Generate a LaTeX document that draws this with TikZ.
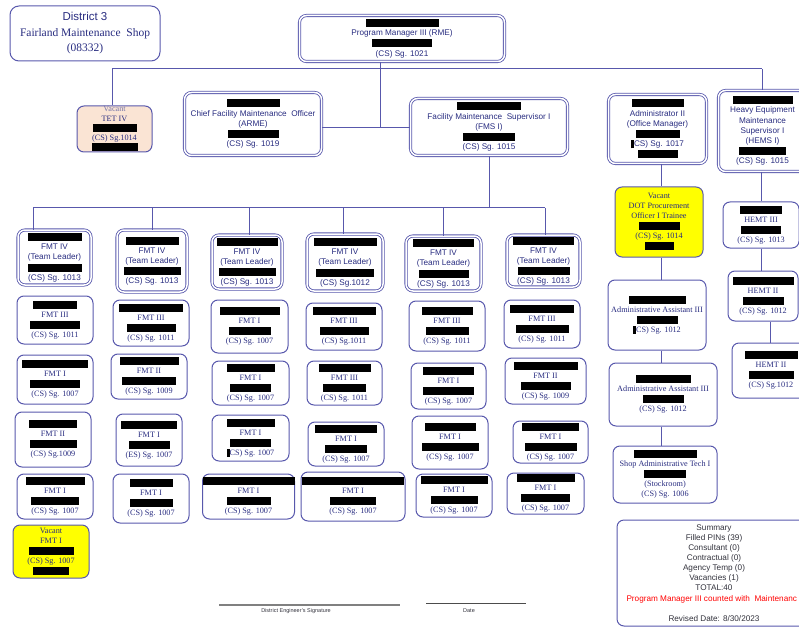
\documentclass[tikz,border=0pt]{standalone}
\usepackage{fontspec}
\setmainfont{Liberation Serif}
\setsansfont{Liberation Sans}
\definecolor{boxblue}{RGB}{88,88,172}
\definecolor{navy}{RGB}{40,44,128}
\definecolor{fadeblue}{RGB}{120,120,170}
\definecolor{peach}{RGB}{250,228,212}
\definecolor{vacyellow}{RGB}{255,255,0}
\definecolor{siggray}{RGB}{128,128,128}
\definecolor{sumtext}{RGB}{50,50,60}
\newcommand{\redact}[1]{{\color{black}\rule[-1.5pt]{#1pt}{8pt}}}
\tikzset{
  boxsize/.style 2 args={minimum width=#1pt, minimum height=#2pt},
  jobbox/.style={draw=boxblue, line width=1pt, rounded corners=7pt, inner sep=0pt,
    align=center, text=navy, font=\fontsize{8.2}{10}\selectfont},
  leadbox/.style={jobbox, double=white, double distance=1.5pt, line width=0.8pt,
    font=\sffamily\fontsize{8.2}{10.2}\selectfont},
  vacbox/.style={jobbox, fill=vacyellow},
  link/.style={draw=boxblue, line width=1pt},
  sigtext/.style={text=sumtext, font=\sffamily\fontsize{5.5}{6.5}\selectfont}
}
\begin{document}
\begin{tikzpicture}[x=1pt, y=-1pt]
\useasboundingbox (0,0) rectangle (799,628);
    % top row
    \node[jobbox, boxsize={150}{55}, rounded corners=9pt, font=\fontsize{11.5}{15.5}\selectfont] (shop) at (85,33.5)
        {{\sffamily District 3}\\ Fairland Maintenance\ \ Shop\\ (08332)};
    \node[leadbox, boxsize={205}{46}] (pm) at (402,38.5)
        {\redact{73}\\ Program Manager III (RME)\\ \redact{60}\\ (CS) Sg. 1021};
    % second row
    \node[jobbox, fill=peach, boxsize={75}{46}, font=\fontsize{8.2}{9.5}\selectfont] (tet) at (114.5,129)
        {{\color{fadeblue}Vacant}\\ TET IV\\ \redact{44}\\ (CS) Sg.1014\\ \redact{46}};
    \node[leadbox, boxsize={137}{63}] (chief) at (253,124)
        {\redact{53}\\ Chief Facility Maintenance\ \ Officer\\ (ARME)\\ \redact{51}\\ (CS) Sg. 1019};
    \node[leadbox, boxsize={157}{57}] (fms) at (489,127)
        {\redact{64}\\ Facility Maintenance\ \ Supervisor I\\ (FMS I)\\ \redact{52}\\ (CS) Sg. 1015};
    \node[leadbox, boxsize={98}{69}] (adm) at (657.5,129)
        {\redact{52}\\ Administrator II\\ (Office Manager)\\ \redact{44}\\ \redact{3}CS) Sg. 1017\\ \redact{40}};
    \node[leadbox, boxsize={88}{81}] (hems) at (762.5,131)
        {\redact{60}\\ Heavy Equipment\\ Maintenance\\ Supervisor I\\ (HEMS I)\\ \redact{47}\\ (CS) Sg. 1015};
    % office column
    \node[vacbox, boxsize={88}{70}] (dot) at (659,222)
        {Vacant\\ DOT Procurement\\ Officer I Trainee\\ \redact{41}\\ (CS) Sg. 1014\\ \redact{29}};
    \node[jobbox, boxsize={98}{70}] (aa1) at (657,315)
        {\redact{57}\\ Administrative Assistant III\\ \redact{41}\\ \redact{3}CS) Sg. 1012};
    \node[jobbox, boxsize={108}{63}] (aa2) at (663,394.5)
        {\redact{55}\\ Administrative Assistant III\\ \redact{41}\\ (CS) Sg. 1012};
    \node[jobbox, boxsize={104}{57}] (sat) at (665,474.5)
        {\redact{63}\\ Shop Administrative Tech I\\ \redact{42}\\ (Stockroom)\\ (CS) Sg. 1006};
    % heavy equipment column
    \node[jobbox, boxsize={76}{46}] (hemt3) at (761,225)
        {\redact{42}\\ HEMT III\\ \redact{40}\\ (CS) Sg. 1013};
    \node[jobbox, boxsize={70}{50}] (hemt2) at (763,296)
        {\redact{61}\\ HEMT II\\ \redact{41}\\ (CS) Sg. 1012};
    \node[jobbox, boxsize={78}{55}] (hemt2b) at (771,370.5)
        {\redact{53}\\ HEMT II\\ \redact{45}\\ (CS) Sg.1012};
    % team 1
    \node[leadbox, boxsize={73}{55}] (tl1) at (54.5,257.5)
        {\redact{54}\\ FMT IV\\ (Team Leader)\\ \redact{54}\\ (CS) Sg. 1013};
    \node[jobbox, boxsize={76}{48}] (c1a) at (55,320) {\redact{44}\\ FMT III\\ \redact{50}\\ (CS) Sg. 1011};
    \node[jobbox, boxsize={76}{49}] (c1b) at (55,379.5) {\redact{66}\\ FMT I\\ \redact{50}\\ (CS) Sg. 1007};
    \node[jobbox, boxsize={76}{55}] (c1c) at (53,439.5) {\redact{48}\\ FMT II\\ \redact{47}\\ (CS) Sg.1009};
    \node[jobbox, boxsize={76}{45}] (c1d) at (55,496.5) {\redact{59}\\ FMT I\\ \redact{48}\\ (CS) Sg. 1007};
    \node[vacbox, boxsize={76}{53}] (c1e) at (51,551.5) {Vacant\\ FMT I\\ \redact{45}\\ (CS) Sg. 1007\\ \redact{36}};
    % team 2
    \node[leadbox, boxsize={70}{62}] (tl2) at (152,261)
        {\redact{53}\\ FMT IV\\ (Team Leader)\\ \redact{57}\\ (CS) Sg. 1013};
    \node[jobbox, boxsize={76}{46}] (c2a) at (151,323) {\redact{64}\\ FMT III\\ \redact{49}\\ (CS) Sg. 1011};
    \node[jobbox, boxsize={76}{45}] (c2b) at (149,376.5) {\redact{59}\\ FMT II\\ \redact{54}\\ (CS) Sg. 1009};
    \node[jobbox, boxsize={66}{52}] (c2c) at (149,440) {\redact{56}\\ FMT I\\ \redact{41}\\ (ES) Sg. 1007};
    \node[jobbox, boxsize={76}{49}] (c2d) at (151,498.5) {\redact{43}\\ FMT I\\ \redact{43}\\ (CS) Sg. 1007};
    % team 3
    \node[leadbox, boxsize={70}{54}] (tl3) at (247,262)
        {\redact{61}\\ FMT IV\\ (Team Leader)\\ \redact{57}\\ (CS) Sg. 1013};
    \node[jobbox, boxsize={77}{53}] (c3a) at (249.5,326.5) {\redact{60}\\ FMT I\\ \redact{42}\\ (CS) Sg. 1007};
    \node[jobbox, boxsize={77}{44}] (c3b) at (250.5,383) {\redact{48}\\ FMT I\\ \redact{41}\\ (CS) Sg. 1007};
    \node[jobbox, boxsize={77}{46}] (c3c) at (250.5,438) {\redact{48}\\ FMT I\\ \redact{41}\\ \redact{3}CS) Sg. 1007};
    \node[jobbox, boxsize={87}{45}] (c3d) at (248.5,496.5) {\redact{92}\\ FMT I\\ \redact{44}\\ (CS) Sg. 1007};
    % team 4
    \node[leadbox, boxsize={76}{57}] (tl4) at (345,262.5)
        {\redact{63}\\ FMT IV\\ (Team Leader)\\ \redact{58}\\ (CS) Sg.1012};
    \node[jobbox, boxsize={76}{47}] (c4a) at (344,326.5) {\redact{63}\\ FMT III\\ \redact{49}\\ (CS) Sg.1011};
    \node[jobbox, boxsize={75}{44}] (c4b) at (344.5,383) {\redact{52}\\ FMT III\\ \redact{43}\\ (CS) Sg. 1011};
    \node[jobbox, boxsize={76}{44}] (c4c) at (346,444) {\redact{62}\\ FMT I\\ \redact{42}\\ (CS) Sg. 1007};
    \node[jobbox, boxsize={104}{49}] (c4d) at (353,496.5) {\redact{102}\\ FMT I\\ \redact{46}\\ (CS) Sg. 1007};
    % team 5
    \node[leadbox, boxsize={75}{55}] (tl5) at (443.5,263.5)
        {\redact{61}\\ FMT IV\\ (Team Leader)\\ \redact{50}\\ (CS) Sg. 1013};
    \node[jobbox, boxsize={76}{50}] (c5a) at (447,326) {\redact{51}\\ FMT III\\ \redact{43}\\ (CS) Sg. 1011};
    \node[jobbox, boxsize={75}{46}] (c5b) at (448.5,386) {\redact{51}\\ FMT I\\ \redact{51}\\ (CS) Sg. 1007};
    \node[jobbox, boxsize={76}{53}] (c5c) at (450,442.5) {\redact{51}\\ FMT I\\ \redact{57}\\ (CS) Sg. 1007};
    \node[jobbox, boxsize={76}{43}] (c5d) at (454,495.5) {\redact{67}\\ FMT I\\ \redact{47}\\ (CS) Sg. 1007};
    % team 6
    \node[leadbox, boxsize={73}{52}] (tl6) at (543.5,261)
        {\redact{61}\\ FMT IV\\ (Team Leader)\\ \redact{52}\\ (CS) Sg. 1013};
    \node[jobbox, boxsize={76}{48}] (c6a) at (542,324) {\redact{64}\\ FMT III\\ \redact{53}\\ (CS) Sg. 1011};
    \node[jobbox, boxsize={81}{46}] (c6b) at (545.5,381) {\redact{64}\\ FMT II\\ \redact{50}\\ (CS) Sg. 1009};
    \node[jobbox, boxsize={75}{42}] (c6c) at (550.5,442) {\redact{57}\\ FMT I\\ \redact{52}\\ (CS) Sg. 1007};
    \node[jobbox, boxsize={77}{41}] (c6d) at (545.5,493.5) {\redact{58}\\ FMT I\\ \redact{49}\\ (CS) Sg. 1007};
    % summary
    \node[jobbox, boxsize={194}{106}, text=sumtext, font=\sffamily\fontsize{8.2}{10.1}\selectfont] (summary) at (714,573)
        {Summary\\ Filled PINs (39)\\ Consultant (0)\\ Contractual (0)\\ Agency Temp (0)\\ Vacancies (1)\\ TOTAL:40\\
         {\color{red}Program Manager III counted with\ \ Maintenanc\hspace{4.5pt}}\\[10.1pt] Revised Date: 8/30/2023};
    % connectors
    \coordinate (busL) at (112,69);
    \coordinate (busR) at (762,69);
    \coordinate (pmdrop) at (380,128);
    \draw[link] (busL) -- (busR);
    \draw[link] (busL) -- (tet.north -| busL);
    \draw[link] (busR) -- (hems.north -| busR);
    \draw[link] (pm.south -| pmdrop) -- (pmdrop);
    \draw[link] (chief.east |- pmdrop) -- (fms.west |- pmdrop);
    \coordinate (bus1) at (33,208);
    \coordinate (bus2) at (152,208);
    \coordinate (bus3) at (249,208);
    \coordinate (bus4) at (343,208);
    \coordinate (bus5) at (443,208);
    \coordinate (bus6) at (545,208);
    \draw[link] (fms.south) -- (fms.south |- bus1);
    \draw[link] (bus1) -- (bus6);
    \draw[link] (bus1) -- (bus1 |- tl1.north);
    \draw[link] (bus2) -- (bus2 |- tl2.north);
    \draw[link] (bus3) -- (bus3 |- tl3.north);
    \draw[link] (bus4) -- (bus4 |- tl4.north);
    \draw[link] (bus5) -- (bus5 |- tl5.north);
    \draw[link] (bus6) -- (bus6 |- tl6.north);
    \coordinate (admline) at (661,0);
    \draw[link] (adm.south -| admline) -- (dot.north -| admline);
    \draw[link] (dot.south -| admline) -- (aa1.north -| admline);
    \draw[link] (aa1.south -| admline) -- (aa2.north -| admline);
    \draw[link] (aa2.south -| admline) -- (sat.north -| admline);
    \coordinate (hemline) at (761,0);
    \coordinate (hemlineb) at (770,0);
    \draw[link] (hems.south -| hemline) -- (hemt3.north -| hemline);
    \draw[link] (hemt3.south -| hemline) -- (hemt2.north -| hemline);
    \draw[link] (hemt2.south -| hemlineb) -- (hemt2b.north -| hemlineb);
    % signature lines
    \coordinate (sigA) at (219,605);
    \coordinate (sigB) at (400,605);
    \coordinate (dateA) at (426,603);
    \coordinate (dateB) at (526,603);
    \draw[siggray, line width=1.5pt] (sigA) -- (sigB);
    \draw[black!70, line width=0.8pt] (dateA) -- (dateB);
    \node[sigtext] (siglabel) at (296,611) {District Engineer's Signature};
    \node[sigtext] (datelabel) at (469,611) {Date};
\end{tikzpicture}
\end{document}
